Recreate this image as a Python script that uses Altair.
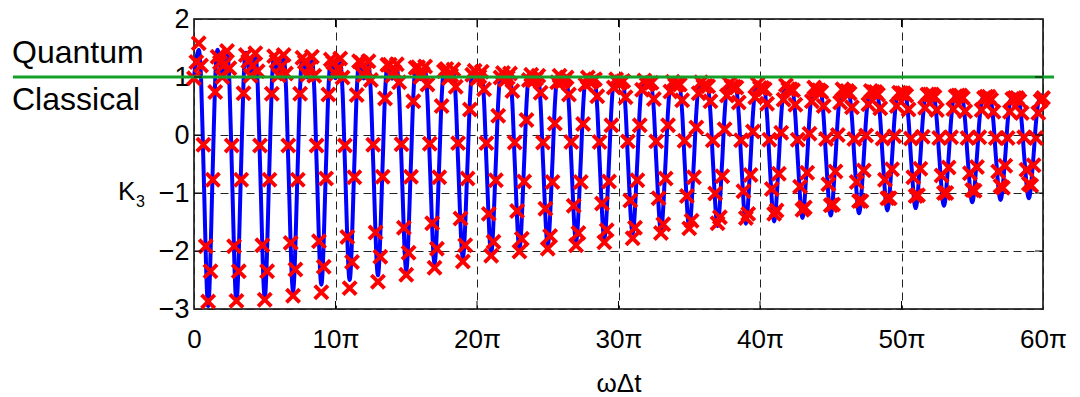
import altair as alt
import pandas as pd

# ---------------- data (x in units of π) ----------------
# red markers: 12 samples per 2π period; one list per phase, one entry per period k = 0..29
phase = [0, 1/6, 2/6, 3/6, 4/6, 5/6, 1, 7/6, 8/6, 9/6, 10/6, 11/6]
m0 = [0.98, 1.00, 1.02, 1.03, 1.04, 1.05, 1.03, 1.02, 1.00, 0.98, 0.97, 0.95, 0.94, 0.92, 0.91, 0.89, 0.87, 0.86, 0.84, 0.83, 0.81, 0.79, 0.77, 0.75, 0.74, 0.72, 0.70, 0.68, 0.66, 0.64]
m1 = [1.26, 1.22, 1.20, 1.18, 1.16, 1.14, 1.11, 1.09, 1.06, 1.03, 1.01, 0.99, 0.97, 0.95, 0.93, 0.91, 0.89, 0.87, 0.85, 0.83, 0.81, 0.79, 0.77, 0.76, 0.74, 0.72, 0.70, 0.68, 0.66, 0.64]
m2 = [1.58, 1.45, 1.41, 1.38, 1.35, 1.32, 1.27, 1.22, 1.18, 1.13, 1.09, 1.06, 1.02, 0.99, 0.96, 0.93, 0.90, 0.87, 0.84, 0.82, 0.79, 0.77, 0.74, 0.72, 0.70, 0.68, 0.66, 0.64, 0.61, 0.59]
m3 = [1.20, 1.15, 1.10, 1.06, 1.02, 0.99, 0.95, 0.91, 0.87, 0.83, 0.79, 0.76, 0.73, 0.70, 0.67, 0.65, 0.62, 0.60, 0.58, 0.56, 0.54, 0.52, 0.50, 0.48, 0.46, 0.44, 0.43, 0.41, 0.40, 0.38]
m4 = [-0.17, -0.18, -0.18, -0.18, -0.18, -0.18, -0.17, -0.16, -0.15, -0.14, -0.14, -0.13, -0.13, -0.12, -0.12, -0.11, -0.11, -0.10, -0.09, -0.09, -0.08, -0.08, -0.07, -0.07, -0.06, -0.06, -0.05, -0.05, -0.05, -0.04]
m5 = [-1.92, -1.92, -1.90, -1.86, -1.83, -1.76, -1.68, -1.60, -1.52, -1.44, -1.36, -1.31, -1.27, -1.22, -1.18, -1.13, -1.09, -1.05, -1.01, -0.97, -0.93, -0.89, -0.85, -0.81, -0.77, -0.73, -0.70, -0.66, -0.63, -0.60]
m6 = [-2.87, -2.86, -2.84, -2.77, -2.71, -2.64, -2.53, -2.41, -2.29, -2.18, -2.08, -2.01, -1.96, -1.90, -1.85, -1.78, -1.69, -1.61, -1.52, -1.43, -1.36, -1.29, -1.21, -1.14, -1.09, -1.05, -1.00, -0.95, -0.88, -0.84]
m7 = [-2.35, -2.35, -2.35, -2.32, -2.27, -2.19, -2.10, -2.03, -1.96, -1.90, -1.84, -1.79, -1.74, -1.69, -1.64, -1.60, -1.54, -1.48, -1.42, -1.36, -1.30, -1.25, -1.20, -1.14, -1.09, -1.04, -1.00, -0.96, -0.91, -0.87]
m8 = [-0.77, -0.77, -0.77, -0.77, -0.75, -0.73, -0.72, -0.72, -0.73, -0.75, -0.78, -0.80, -0.81, -0.81, -0.80, -0.78, -0.75, -0.73, -0.71, -0.69, -0.67, -0.65, -0.63, -0.61, -0.59, -0.58, -0.56, -0.55, -0.53, -0.52]
m9 = [0.74, 0.72, 0.71, 0.71, 0.70, 0.69, 0.63, 0.58, 0.50, 0.44, 0.33, 0.26, 0.20, 0.19, 0.17, 0.17, 0.17, 0.13, 0.10, 0.06, 0.04, 0.02, 0.00, -0.01, -0.02, -0.03, -0.04, -0.04, -0.05, -0.05]
m10 = [1.35, 1.38, 1.36, 1.33, 1.30, 1.27, 1.21, 1.16, 1.10, 1.04, 0.99, 0.95, 0.91, 0.87, 0.82, 0.78, 0.75, 0.72, 0.68, 0.65, 0.61, 0.58, 0.56, 0.53, 0.50, 0.47, 0.45, 0.43, 0.40, 0.38]
m11 = [1.25, 1.27, 1.27, 1.26, 1.25, 1.24, 1.21, 1.17, 1.14, 1.11, 1.07, 1.04, 1.02, 0.99, 0.96, 0.94, 0.92, 0.91, 0.89, 0.88, 0.86, 0.82, 0.79, 0.76, 0.73, 0.70, 0.67, 0.64, 0.62, 0.59]
marker_last = 0.64  # at 60π

# blue curve: values at phases 0, 1/3, 1/2, 2/3, 1 of each period (mirrored on the way up)
blue_dip = [1.00, 1.00, 1.00, 0.99, 0.99, 0.98, 0.975, 0.97, 0.96, 0.95, 0.94, 0.93, 0.92, 0.91, 0.90, 0.885, 0.87, 0.86, 0.85, 0.835, 0.82, 0.81, 0.795, 0.78, 0.77, 0.755, 0.74, 0.73, 0.715, 0.70, 0.695]
blue_peak = [1.47, 1.42, 1.37, 1.33, 1.28, 1.24, 1.19, 1.15, 1.11, 1.08, 1.04, 1.01, 0.97, 0.94, 0.91, 0.88, 0.85, 0.82, 0.80, 0.77, 0.745, 0.72, 0.70, 0.675, 0.655, 0.635, 0.615, 0.595, 0.575, 0.555]
blue_shoulder = [0.97, 0.92, 0.875, 0.83, 0.79, 0.745, 0.71, 0.67, 0.635, 0.60, 0.57, 0.54, 0.51, 0.485, 0.46, 0.435, 0.415, 0.39, 0.37, 0.35, 0.335, 0.315, 0.30, 0.285, 0.27, 0.255, 0.24, 0.23, 0.22, 0.205]
blue_mid = [-0.50, -0.50, -0.50, -0.50, -0.49, -0.49, -0.49, -0.48, -0.48, -0.475, -0.47, -0.465, -0.46, -0.455, -0.45, -0.44, -0.435, -0.43, -0.425, -0.415, -0.41, -0.405, -0.40, -0.39, -0.385, -0.38, -0.37, -0.365, -0.36, -0.35]
blue_trough = [-2.95, -2.88, -2.80, -2.69, -2.58, -2.50, -2.42, -2.33, -2.22, -2.12, -2.04, -1.96, -1.90, -1.84, -1.78, -1.70, -1.65, -1.60, -1.57, -1.53, -1.49, -1.43, -1.39, -1.35, -1.30, -1.26, -1.22, -1.16, -1.12, -1.09]

x_ticks = [0, 10, 20, 30, 40, 50, 60]
y_ticks = [-3, -2, -1, 0, 1, 2]
classical_bound = 1

# ---------------- tables ----------------
series = [m0, m1, m2, m3, m4, m5, m6, m7, m8, m9, m10, m11]
mrows = []
for k in range(30):
    for j, ph in enumerate(phase):
        mrows.append({"x": 2 * k + ph, "y": series[j][k]})
mrows.append({"x": 60, "y": marker_last})
mdf = pd.DataFrame(mrows)

brows = []
for k in range(30):
    b = 2 * k
    pts = [(0, blue_dip[k]), (1/3, blue_peak[k]), (1/2, blue_shoulder[k]), (2/3, blue_mid[k]),
           (1, blue_trough[k]), (4/3, blue_mid[k]), (3/2, blue_shoulder[k]), (5/3, blue_peak[k])]
    for ph, v in pts:
        brows.append({"x": b + ph, "y": v})
brows.append({"x": 60, "y": blue_dip[30]})
bdf = pd.DataFrame(brows)

# ---------------- chart ----------------
FONT = "Liberation Sans"
W, H = 849, 290

xs = alt.Scale(domain=[0, 60], nice=False, zero=False)
ys = alt.Scale(domain=[-3, 2], nice=False, zero=False)

x_axis = alt.Axis(values=x_ticks, labelExpr="datum.value == 0 ? '0' : datum.value + 'π'",
                  title="ωΔt", grid=True, gridDash=[8, 5], gridColor="#222", gridWidth=1,
                  ticks=False, domain=False, labelFontSize=26, labelFont=FONT, labelColor="black",
                  labelPadding=17, titleFont=FONT, titleFontSize=26, titleFontWeight="normal",
                  titleColor="black", titlePadding=18, labelFlush=False)
y_axis = alt.Axis(values=y_ticks, labelExpr="datum.value < 0 ? '\u2212' + abs(datum.value) : '' + datum.value",
                  title=None, grid=True, gridDash=[8, 5], gridColor="#222", gridWidth=1,
                  ticks=False, domain=False, labelFontSize=27, labelFont=FONT, labelColor="black",
                  labelPadding=5, labelFlush=False)

curve = alt.Chart(bdf).mark_line(color="#0000ff", strokeWidth=4, interpolate="monotone").encode(
    x=alt.X("x:Q", scale=xs, axis=x_axis),
    y=alt.Y("y:Q", scale=ys, axis=y_axis),
)
xpath = "M-1,-1L1,1M-1,1L1,-1"
marks = alt.Chart(mdf).mark_point(shape=xpath, size=175, filled=False, color="#ff0000",
                                  strokeWidth=3.9, opacity=1).encode(x="x:Q", y="y:Q")

xt = pd.DataFrame({"v": x_ticks[1:-1]})
yt = pd.DataFrame({"v": y_ticks[1:-1]})
tick_b = alt.Chart(xt).mark_rule(color="black", strokeWidth=1).encode(x="v:Q", y=alt.value(H), y2=alt.value(H - 8))
tick_t = alt.Chart(xt).mark_rule(color="black", strokeWidth=1).encode(x="v:Q", y=alt.value(0), y2=alt.value(8))
tick_l = alt.Chart(yt).mark_rule(color="black", strokeWidth=1).encode(y="v:Q", x=alt.value(0), x2=alt.value(8))
tick_r = alt.Chart(yt).mark_rule(color="black", strokeWidth=1).encode(y="v:Q", x=alt.value(W), x2=alt.value(W - 8))

gdf = pd.DataFrame({"v": [classical_bound]})
green = alt.Chart(gdf).mark_rule(color="#12a02a", strokeWidth=3).encode(
    y="v:Q", x=alt.value(-181), x2=alt.value(W + 11))

lab = pd.DataFrame({"t": ["Quantum", "Classical"], "py": [34, 81]})
labels = alt.Chart(lab).mark_text(font=FONT, fontSize=32, align="left", baseline="middle", color="black").encode(
    text="t:N", y=alt.Y("py:Q", scale=None), x=alt.value(-182))

k_lab = alt.Chart(pd.DataFrame({"t": ["K"]})).mark_text(font=FONT, fontSize=26, align="left", baseline="middle",
                                                        color="black").encode(
    text="t:N", x=alt.value(-76), y=alt.value(173))
k_sub = alt.Chart(pd.DataFrame({"t": ["3"]})).mark_text(font=FONT, fontSize=16, align="left", baseline="middle",
                                                        color="black").encode(
    text="t:N", x=alt.value(-58), y=alt.value(183))

chart = alt.layer(curve, marks, green, tick_b, tick_t, tick_l, tick_r, labels, k_lab, k_sub).properties(
    width=W, height=H,
    autosize=alt.AutoSizeParams(type="none"),
    padding={"left": 194, "top": 19, "right": 37, "bottom": 88},
    background="white",
).configure_view(stroke="black", strokeWidth=1.5)

chart.save("out.html", embed_options={"renderer": "svg", "actions": False})
